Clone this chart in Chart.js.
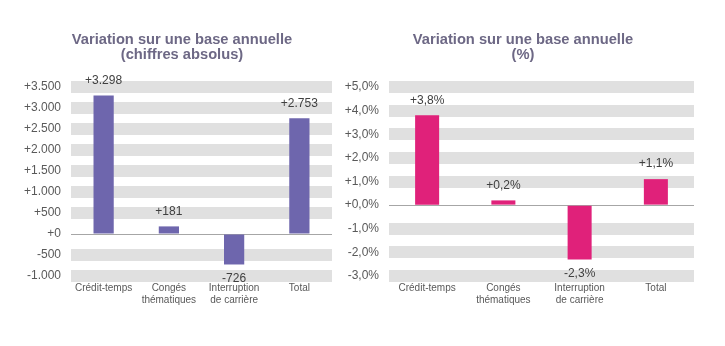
<!DOCTYPE html>
<html>
<head>
<meta charset="utf-8">
<script src="https://cdn.jsdelivr.net/npm/chart.js@4"></script>
<style>
  body { margin: 0; background: #fff; }
  #wrap { position: relative; width: 725px; height: 346px; }
  #abs-chart { position: absolute; left: 0; top: 0; }
  #pct-chart { position: absolute; left: 340px; top: 0; }
</style>
</head>
<body>
<div id="wrap">
  <canvas id="abs-chart" width="364" height="346"></canvas>
  <canvas id="pct-chart" width="366" height="346"></canvas>
</div>
<script>
const categories = [["Crédit-temps"], ["Congés", "thématiques"], ["Interruption", "de carrière"], ["Total"]];
const absValues = [3298, 181, -726, 2753];
const pctValues = [3.8, 0.2, -2.3, 1.1];
const absTicks = { min: -1000, max: 3500, step: 500 };
const pctTicks = { min: -3, max: 5, step: 1 };

const fontFamily = "'Liberation Sans', Arial, sans-serif";
const bandColor = "#e0e0e0";
const zeroColor = "#a6a6a6";

const sign = v => (v >= 0 ? "+" : "-");
const fmtAbs = v => sign(v) + Math.abs(v).toString().replace(/\B(?=(\d{3})+(?!\d))/g, ".");
const fmtPct = v => sign(v) + Math.abs(v).toFixed(1).replace(".", ",") + "%";

// values printed above / below each bar
const barLabels = {
    id: "barLabels",
    afterDatasetsDraw(chart, args, opts) {
        const ctx = chart.ctx;
        const meta = chart.getDatasetMeta(0);
        const data = chart.data.datasets[0].data;
        ctx.save();
        ctx.font = "12px " + fontFamily;
        ctx.fillStyle = "#404040";
        ctx.textAlign = "center";
        ctx.textBaseline = "middle";
        meta.data.forEach((bar, i) => {
            const v = data[i];
            const y = v >= 0 ? bar.y - 15 : bar.y + 14;
            ctx.fillText(opts.format(v), bar.x, y);
        });
        ctx.restore();
    }
};

// title centred on the whole chart box, not on the plot
const boxTitle = {
    id: "boxTitle",
    afterDraw(chart, args, opts) {
        const ctx = chart.ctx;
        ctx.save();
        ctx.font = "bold 14.7px " + fontFamily;
        ctx.fillStyle = "#6d6885";
        ctx.textAlign = "center";
        ctx.textBaseline = "middle";
        opts.lines.forEach((line, i) => ctx.fillText(line, opts.x, 39.5 + i * 15.5));
        ctx.restore();
    }
};

const makeChart = (canvas, title, values, color, range, fmt, titleX, padRight, axisWidth, barPct) => {
    return new Chart(canvas, {
        type: "bar",
        data: {
            labels: categories,
            datasets: [{
                data: values,
                backgroundColor: color,
                barPercentage: barPct,
                categoryPercentage: 1
            }]
        },
        plugins: [barLabels, boxTitle],
        options: {
            responsive: false,
            animation: false,
            layout: { padding: { left: 0, right: padRight, top: 87, bottom: 34 } },
            plugins: {
                legend: { display: false },
                tooltip: { enabled: false },
                title: { display: false },
                boxTitle: { lines: title, x: titleX },
                barLabels: { format: fmt }
            },
            scales: {
                x: {
                    grid: { display: false, drawTicks: false },
                    border: { display: false },
                    ticks: {
                        color: "#595959",
                        font: { family: fontFamily, size: 10 },
                        padding: 6,
                        maxRotation: 0
                    }
                },
                y: {
                    min: range.min,
                    max: range.max,
                    afterFit: scale => { scale.width = axisWidth; },
                    border: { display: false },
                    grid: {
                        drawTicks: false,
                        color: c => (c.tick && c.tick.value === 0 ? zeroColor : bandColor),
                        lineWidth: c => (c.tick && c.tick.value === 0 ? 1 : 12)
                    },
                    ticks: {
                        stepSize: range.step,
                        color: "#595959",
                        font: { family: fontFamily, size: 12 },
                        padding: 10,
                        callback: v => fmt(v)
                    }
                }
            }
        }
    });
};

makeChart(document.getElementById("abs-chart"),
    ["Variation sur une base annuelle", "(chiffres absolus)"],
    absValues, "#6e66ad", absTicks, fmtAbs, 182, 32, 71, 0.31);

makeChart(document.getElementById("pct-chart"),
    ["Variation sur une base annuelle", "(%)"],
    pctValues, "#e0217a", pctTicks, fmtPct, 183, 12, 49, 0.315);
</script>
</body>
</html>
